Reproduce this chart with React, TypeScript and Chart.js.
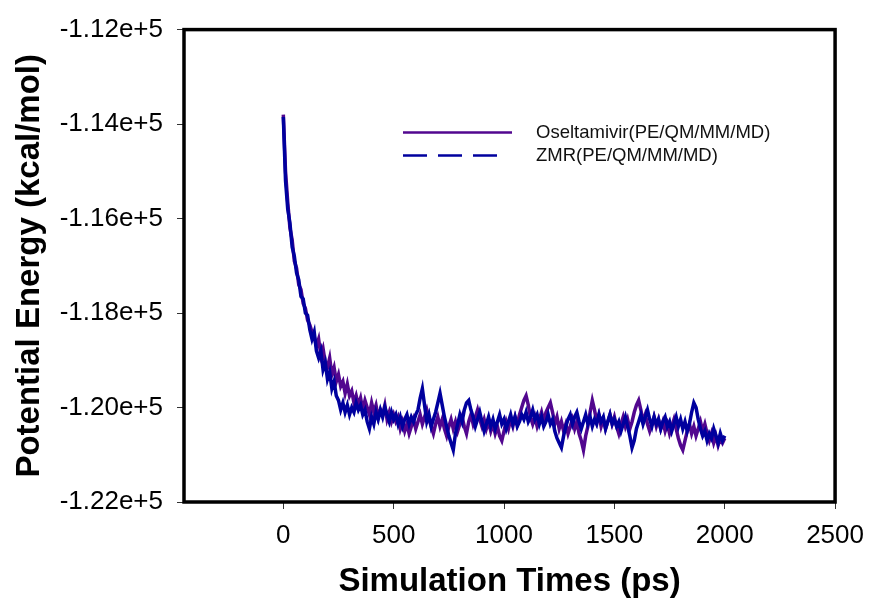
import React, { useEffect, useRef } from "react";
import { Chart, registerables } from "chart.js";

Chart.register(...registerables);

// Sampling interval of both trajectories (ps)
const STEP_PS = 10;

// Potential energy (kcal/mol), one value every 10 ps from 0 to 2000 ps
const OSELTAMIVIR = [
  -113800, -115000, -115650, -116200, -116450, -116900, -117050, -117400, -117500, -117800,
  -117900, -118150, -118250, -118400, -118500, -118700, -118550, -118900, -118750, -119050,
  -119150, -118950, -119300, -119150, -119450, -119300, -119550, -119450, -119700, -119500,
  -119750, -119650, -119900, -119750, -119950, -119800, -120050, -119850, -120000, -120150,
  -119900, -120100, -119950, -120200, -120050, -120150, -119950, -120250, -120100, -120300,
  -120150, -120300, -120200, -120450, -120300, -120500, -120350, -120550, -120400, -120250,
  -120450, -120300, -120150, -120350, -120200, -120050, -120250, -120400, -120550, -120350,
  -120200, -120400, -120250, -120450, -120600, -120400, -120250, -120450, -120300, -120500,
  -120350, -120200, -120400, -120550, -120300, -120150, -120350, -120200, -120050, -120250,
  -120400, -120250, -120450, -120300, -120500, -120350, -120550, -120400, -120600, -120700,
  -120500, -120300, -120450, -120250, -120400, -120200, -120350, -120150, -120000, -119850,
  -119750, -119950, -120200, -120350, -120200, -120400, -120250, -120100, -120300, -120100,
  -120000, -119900, -120100, -120350, -120200, -120450, -120300, -120500, -120350, -120550,
  -120400, -120250, -120450, -120300, -120550, -120700, -120900, -120600, -120400, -120100,
  -119850, -120050, -120300, -120150, -120400, -120250, -120450, -120300, -120150, -120350,
  -120200, -120400, -120550, -120350, -120200, -120400, -120250, -120450, -120300, -120100,
  -119950, -119850, -120050, -120300, -120150, -120350, -120500, -120350, -120200, -120400,
  -120250, -120450, -120300, -120500, -120350, -120550, -120400, -120250, -120450, -120650,
  -120800, -120900, -120700, -120500, -120350, -120550, -120400, -120600, -120450, -120300,
  -120500, -120350, -120550, -120700, -120550, -120750, -120600, -120800, -120650, -120750,
  -120650,
];

const ZMR = [
  -113850, -115200, -115800, -116100, -116600, -116800, -117150, -117300, -117650, -117700,
  -118000, -118050, -118350, -118550, -118400, -118800, -118950, -118800, -119200, -119050,
  -119400, -119250, -119600, -119450, -119750, -119850, -120050, -119900, -120100, -119950,
  -120150, -120000, -120100, -119900, -120050, -119950, -120150, -120050, -120300, -120450,
  -120200, -120350, -120100, -120250, -120050, -120200, -120000, -120150, -120300, -120100,
  -120250, -120150, -120350, -120200, -120400, -120250, -120150, -120350, -120200, -120300,
  -120150, -120050, -119800, -119600, -119950, -120300, -120150, -120400, -120250, -120100,
  -119900, -119700, -119950, -120200, -120400, -120600, -120750, -120900, -120550, -120350,
  -120150, -120300, -120050, -119900, -119850, -120050, -120200, -120400, -120250, -120100,
  -120300, -120500, -120350, -120200, -120400, -120250, -120450, -120300, -120150, -120350,
  -120250, -120450, -120300, -120150, -120350, -120200, -120400, -120300, -120150, -120250,
  -120100, -120300, -120200, -120050, -120250, -120150, -120350, -120200, -120400, -120300,
  -120150, -120350, -120250, -120500, -120650, -120750, -120850, -120600, -120400, -120250,
  -120150, -120350, -120200, -120100, -120300, -120450, -120300, -120150, -120350, -120200,
  -120400, -120250, -120350, -120150, -120300, -120200, -120450, -120300, -120150, -120350,
  -120250, -120400, -120300, -120500, -120350, -120200, -120400, -120600, -120850, -120700,
  -120450, -120300, -120150, -120350, -120200, -120050, -120250, -120400, -120200, -120350,
  -120250, -120450, -120300, -120200, -120400, -120300, -120500, -120350, -120200, -120400,
  -120250, -120450, -120300, -120500, -120350, -120100, -119900, -120000, -120250, -120450,
  -120600, -120500, -120700, -120550, -120650, -120450, -120600, -120750, -120550, -120700,
  -120600,
];

const SERIES_LABELS = ["Oseltamivir(PE/QM/MM/MD)", "ZMR(PE/QM/MM/MD)"];
const X_TICKS = [0, 500, 1000, 1500, 2000, 2500];
const Y_TICKS = [-112000, -114000, -116000, -118000, -120000, -122000];
const Y_TICK_LABELS = ["-1.12e+5", "-1.14e+5", "-1.16e+5", "-1.18e+5", "-1.20e+5", "-1.22e+5"];
const X_TITLE = "Simulation Times (ps)";
const Y_TITLE = "Potential Energy (kcal/mol)";

const FONT = '"Liberation Sans", Arial, Helvetica, sans-serif';
const PURPLE = "#52078f";
const BLUE = "#00009e";

const toPoints = (arr: number[]) => arr.map((v, i) => ({ x: i * STEP_PS, y: v }));

const framePlugin = {
  id: "frameAndLegend",
  afterDatasetsDraw(chart: any) {
    const { ctx, chartArea: a } = chart;
    ctx.save();
    ctx.strokeStyle = "#000";
    ctx.lineWidth = 3.5;
    ctx.setLineDash([]);
    ctx.strokeRect(a.left, a.top, a.right - a.left, a.bottom - a.top);

    ctx.font = `18.5px ${FONT}`;
    ctx.textBaseline = "middle";
    ctx.textAlign = "left";
    const items = [
      { label: SERIES_LABELS[0], color: PURPLE, dash: [] as number[], len: 109 },
      { label: SERIES_LABELS[1], color: BLUE, dash: [24, 11], len: 94 },
    ];
    items.forEach((it, i) => {
      const y = a.top + 103 + i * 23;
      ctx.beginPath();
      ctx.setLineDash(it.dash);
      ctx.strokeStyle = it.color;
      ctx.lineWidth = 2.5;
      ctx.moveTo(a.left + 219, y);
      ctx.lineTo(a.left + 219 + it.len, y);
      ctx.stroke();
      ctx.setLineDash([]);
      ctx.fillStyle = "#111";
      ctx.fillText(it.label, a.left + 352, y);
    });
    ctx.restore();
  },
};

export default function App() {
  const ref = useRef<HTMLCanvasElement | null>(null);

  useEffect(() => {
    document.body.style.margin = "0";
    if (!ref.current) return;
    const chart = new Chart(ref.current, {
      type: "line",
      data: {
        datasets: [
          {
            label: SERIES_LABELS[0],
            data: toPoints(OSELTAMIVIR),
            borderColor: PURPLE,
            borderWidth: 3.5,
            pointRadius: 0,
            tension: 0,
            fill: false,
            order: 1,
          },
          {
            label: SERIES_LABELS[1],
            data: toPoints(ZMR),
            borderColor: BLUE,
            borderWidth: 3.5,
            pointRadius: 0,
            tension: 0,
            fill: false,
            order: 0,
          },
        ],
      },
      options: {
        animation: false,
        responsive: false,
        events: [],
        layout: { padding: { left: 0, top: 28, right: 35, bottom: 0 } },
        plugins: {
          legend: { display: false },
          tooltip: { enabled: false },
        },
        scales: {
          x: {
            type: "linear",
            min: -450,
            max: 2500,
            afterBuildTicks: (s: any) => {
              s.ticks = X_TICKS.map((v) => ({ value: v }));
            },
            afterFit: (s: any) => {
              s.height = 100;
            },
            ticks: {
              font: { size: 26, family: FONT },
              color: "#000",
              padding: 11,
              maxRotation: 0,
              autoSkip: false,
              callback: (v: any) => String(v),
            },
            grid: {
              display: true,
              drawOnChartArea: false,
              drawTicks: true,
              tickLength: 7,
              color: "#333",
              lineWidth: 1,
            },
            border: { display: false },
            title: {
              display: true,
              text: X_TITLE,
              color: "#000",
              font: { size: 33, weight: "bold", family: FONT },
              padding: { top: 0, bottom: 0 },
            },
          },
          y: {
            type: "linear",
            min: -122000,
            max: -112000,
            afterBuildTicks: (s: any) => {
              s.ticks = Y_TICKS.map((v) => ({ value: v }));
            },
            afterFit: (s: any) => {
              s.width = 184;
            },
            ticks: {
              font: { size: 26, family: FONT },
              color: "#000",
              padding: 14,
              autoSkip: false,
              callback: (v: any) => Y_TICK_LABELS[Y_TICKS.indexOf(Number(v))] ?? "",
            },
            grid: {
              display: true,
              drawOnChartArea: false,
              drawTicks: true,
              tickLength: 7,
              color: "#333",
              lineWidth: 1,
            },
            border: { display: false },
            title: {
              display: true,
              text: Y_TITLE,
              color: "#000",
              font: { size: 33, weight: "bold", family: FONT },
              padding: { top: 10, bottom: 0 },
            },
          },
        },
      },
      plugins: [framePlugin],
    });
    return () => chart.destroy();
  }, []);

  return (
    <div style={{ width: 875, height: 602, background: "#fff" }}>
      <canvas ref={ref} width={875} height={602} style={{ display: "block" }} />
    </div>
  );
}
